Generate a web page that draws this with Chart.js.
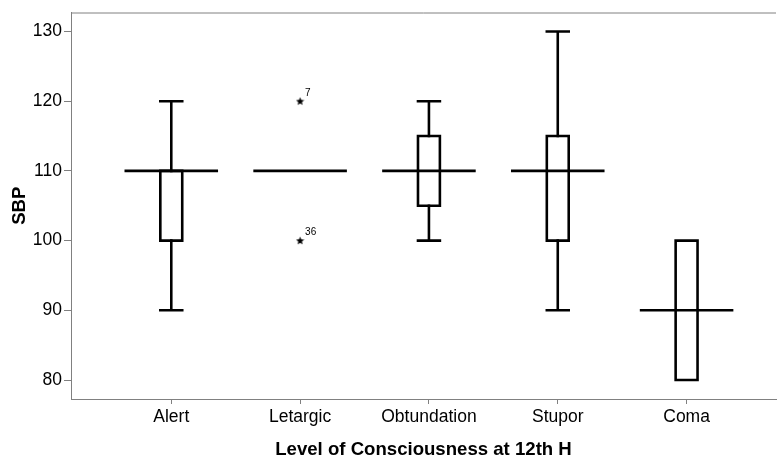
<!DOCTYPE html>
<html>
<head>
<meta charset="utf-8">
<script src="https://cdn.jsdelivr.net/npm/chart.js@4.4.1/dist/chart.umd.min.js"></script>
<style>
  html, body { margin: 0; padding: 0; background: #ffffff; }
  #wrap { width: 781px; height: 459px; }
</style>
</head>
<body>
<div id="wrap"><canvas id="c" width="781" height="459"></canvas></div>
<script>
// ---- data ----
const categories   = ['Alert', 'Letargic', 'Obtundation', 'Stupor', 'Coma'];
const whiskerLow   = [90, 110, 100, 90, 80];
const q1           = [100, 110, 105, 100, 80];
const median       = [110, 110, 110, 110, 90];
const q3           = [110, 110, 115, 115, 100];
const whiskerHigh  = [120, 110, 120, 130, 100];
const outlierCategory = [1, 1];
const outlierValue    = [120, 100];
const outlierLabel    = ['7', '36'];
const yTicks = [80, 90, 100, 110, 120, 130];
const xTitle = 'Level of Consciousness at 12th H';
const yTitle = 'SBP';

// ---- style constants ----
const BOX_HALF = 0.085;
const MEDIAN_HALF = 0.353;
const LINE_W = 2.6;
const AXIS_GREY = '#808080';
const FONT = "'Liberation Sans', Arial, sans-serif";

// build segment lists from data
function pushSeg(arr, x1, y1, x2, y2) {
  arr.push({x: x1, y: y1}, {x: x2, y: y2}, {x: x1, y: null});
}
const boxPts = [], whiskerPts = [], medianPts = [];
categories.forEach((c, i) => {
  if (q3[i] > q1[i]) {
    boxPts.push({x: i - BOX_HALF, y: q1[i]}, {x: i + BOX_HALF, y: q1[i]},
                {x: i + BOX_HALF, y: q3[i]}, {x: i - BOX_HALF, y: q3[i]},
                {x: i - BOX_HALF, y: q1[i]}, {x: i, y: null});
  }
  if (whiskerHigh[i] > q3[i]) {
    pushSeg(whiskerPts, i, q3[i], i, whiskerHigh[i]);
    pushSeg(whiskerPts, i - BOX_HALF, whiskerHigh[i], i + BOX_HALF, whiskerHigh[i]);
  }
  if (whiskerLow[i] < q1[i]) {
    pushSeg(whiskerPts, i, q1[i], i, whiskerLow[i]);
    pushSeg(whiskerPts, i - BOX_HALF, whiskerLow[i], i + BOX_HALF, whiskerLow[i]);
  }
  pushSeg(medianPts, i - MEDIAN_HALF, median[i], i + MEDIAN_HALF, median[i]);
});
const outlierPts = outlierCategory.map((c, k) => ({x: c, y: outlierValue[k], label: outlierLabel[k]}));

// small filled star marker
const star = document.createElement('canvas');
star.width = 9; star.height = 9;
(function () {
  const g = star.getContext('2d');
  g.fillStyle = '#000';
  g.beginPath();
  for (let k = 0; k < 10; k++) {
    const r = k % 2 === 0 ? 4.3 : 1.9;
    const a = -Math.PI / 2 + k * Math.PI / 5;
    const px = 4.5 + r * Math.cos(a), py = 4.8 + r * Math.sin(a);
    k === 0 ? g.moveTo(px, py) : g.lineTo(px, py);
  }
  g.closePath();
  g.fill();
})();

const lineDs = (data) => ({
  type: 'scatter', data, showLine: true, spanGaps: false,
  borderColor: '#000', borderWidth: LINE_W, pointRadius: 0,
  borderJoinStyle: 'miter', borderCapStyle: 'square', fill: false, tension: 0
});

const framePlugin = {
  id: 'frame',
  beforeDatasetsDraw(chart) {
    const {ctx, chartArea} = chart;
    ctx.save();
    ctx.strokeStyle = AXIS_GREY;
    ctx.lineWidth = 1;
    ctx.beginPath();
    ctx.moveTo(chartArea.left, chartArea.top + 0.5);
    ctx.lineTo(chartArea.right, chartArea.top + 0.5);
    ctx.stroke();
    ctx.restore();
  },
  afterDatasetsDraw(chart) {
    const {ctx} = chart;
    const xs = chart.scales.x, ys = chart.scales.y;
    ctx.save();
    ctx.fillStyle = '#000';
    ctx.font = '10px ' + FONT;
    ctx.textBaseline = 'middle';
    ctx.textAlign = 'left';
    outlierPts.forEach(p => {
      const px = xs.getPixelForValue(p.x), py = ys.getPixelForValue(p.y);
      ctx.fillText(p.label, px + 5, py - 8);
    });
    ctx.restore();
  }
};

new Chart(document.getElementById('c'), {
  data: {
    datasets: [
      lineDs(boxPts),
      lineDs(whiskerPts),
      lineDs(medianPts),
      {
        type: 'scatter', data: outlierPts, pointStyle: star, pointRadius: 4,
        showLine: false
      }
    ]
  },
  options: {
    responsive: false,
    animation: false,
    devicePixelRatio: 1,
    events: [],
    layout: { padding: { top: 12, right: 0, bottom: 0, left: 0 } },
    plugins: { legend: { display: false }, tooltip: { enabled: false } },
    scales: {
      x: {
        type: 'linear',
        min: -0.7784, max: 4.694,
        afterBuildTicks(s) { s.ticks = categories.map((c, i) => ({value: i})); },
        afterFit(s) { s.height = 60; },
        ticks: {
          autoSkip: false, maxRotation: 0, padding: 3, color: '#000',
          font: { family: FONT, size: 17.5 },
          callback: (v) => categories[v]
        },
        grid: { display: true, drawOnChartArea: false, drawTicks: true, tickLength: 5, color: AXIS_GREY, lineWidth: 1 },
        border: { display: true, color: AXIS_GREY, width: 1 },
        title: { display: true, text: xTitle, color: '#000', font: { family: FONT, size: 18.6, weight: 'bold', lineHeight: 0.95 }, padding: { top: 0, bottom: 0 } }
      },
      y: {
        type: 'linear',
        min: 77.28, max: 132.72,
        afterBuildTicks(s) { s.ticks = yTicks.map(v => ({value: v})); },
        afterFit(s) { s.width = 71; },
        ticks: { padding: 2, color: '#000', font: { family: FONT, size: 17.5 } },
        grid: { display: true, drawOnChartArea: false, drawTicks: true, tickLength: 7, color: AXIS_GREY, lineWidth: 1 },
        border: { display: true, color: AXIS_GREY, width: 1 },
        title: { display: true, text: yTitle, color: '#000', font: { family: FONT, size: 18.6, weight: 'bold', lineHeight: 1.2 }, padding: { top: 9, bottom: 0 } }
      }
    }
  },
  plugins: [framePlugin]
});
</script>
</body>
</html>
